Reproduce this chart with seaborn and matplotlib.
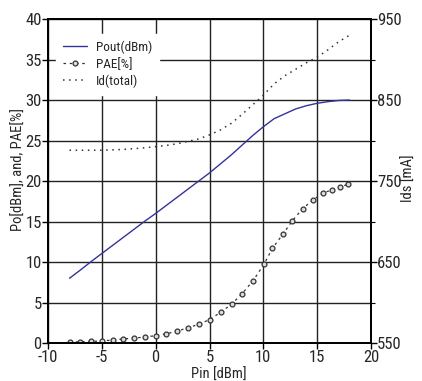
import matplotlib
matplotlib.use("Agg")
import matplotlib.pyplot as plt
import seaborn as sns
import pandas as pd
from matplotlib.ticker import MultipleLocator

# ---- data ----
pin_pout = list(range(-8, 19))
pout = [8.0, 9.0, 10.05, 11.05, 12.05, 13.05, 14.05, 15.05, 16.0, 17.0, 18.0,
        19.0, 20.0, 21.0, 22.1, 23.2, 24.4, 25.6, 26.7, 27.7, 28.3, 28.9,
        29.3, 29.6, 29.8, 29.95, 30.0]

pin_pae = [-8, -7, -6, -5, -4, -3, -2, -1, 0, 1, 2, 3, 4, 5.0, 6.05, 7.05,
           8.0, 9.05, 10.05, 10.85, 11.85, 12.7, 13.65, 14.65, 15.5, 16.35,
           17.15, 17.9]
pae = [0.1, 0.15, 0.2, 0.25, 0.37, 0.5, 0.6, 0.75, 0.9, 1.15, 1.45, 1.9, 2.3,
       2.9, 3.8, 4.8, 6.05, 7.7, 9.7, 11.7, 13.5, 15.1, 16.6, 17.7, 18.5,
       18.9, 19.3, 19.6]

pin_id = list(range(-8, 19))
ids = [788, 788, 788, 788, 788.5, 789, 790, 791, 792.5, 794, 796, 799, 802,
       807, 813, 821, 832, 844, 856, 870, 880, 888, 896, 903, 912, 922, 930]

xticks = [-10, -5, 0, 5, 10, 15, 20]
yticks_left = [0, 5, 10, 15, 20, 25, 30, 35, 40]
yticks_right = [550, 650, 750, 850, 950]

sns.set_style("white")
plt.rcParams['font.family'] = ['Roboto Condensed', 'Liberation Sans Narrow',
                               'Liberation Sans', 'DejaVu Sans']
plt.rcParams['axes.unicode_minus'] = False

fig = plt.figure(figsize=(4.22, 3.81), dpi=100)
ax = fig.add_axes([0.1137, 0.0997, 0.7655, 0.8503])
ax2 = ax.twinx()

df_pout = pd.DataFrame({"Pin": pin_pout, "v": pout})
df_pae = pd.DataFrame({"Pin": pin_pae, "v": pae})
df_id = pd.DataFrame({"Pin": pin_id, "v": ids})

sns.lineplot(data=df_pout, x="Pin", y="v", ax=ax, color="#33339a", lw=1.0,
             label="Pout(dBm)", legend=False)
sns.lineplot(data=df_pae, x="Pin", y="v", ax=ax, color="#333333", lw=0.9,
             linestyle=(0, (2, 3)), marker="o", markersize=3.5,
             markerfacecolor="#dddddd", markeredgecolor="#333333",
             markeredgewidth=0.9, label="PAE[%]", legend=False)
sns.lineplot(data=df_id, x="Pin", y="v", ax=ax2, color="#333333", lw=1.1,
             linestyle=(0, (1, 3)), label="Id(total)", legend=False)

ax.set_xlim(-10, 20)
ax.set_ylim(0, 40)
ax2.set_ylim(550, 950)
ax.set_xticks(xticks)
ax.set_yticks(yticks_left)
ax2.set_yticks(yticks_right)
ax2.yaxis.set_minor_locator(MultipleLocator(50))

ax.grid(True, color="#222222", lw=1.0)
ax.set_axisbelow(True)

for a in (ax, ax2):
    for s in a.spines.values():
        s.set_color("black")
        s.set_linewidth(1.3)

ax.tick_params(axis="both", which="major", direction="out", length=4,
               width=1, color="black", labelsize=12, pad=1,
               bottom=True, left=True)
ax.tick_params(axis="y", pad=0.5)
ax2.tick_params(axis="y", which="major", direction="out", length=4,
                width=1, color="black", labelsize=12, pad=0.5, right=True)
ax2.tick_params(axis="y", which="minor", direction="out", length=3,
                width=0.8, color="black", right=True)

ax.set_xlabel("Pin [dBm]", fontsize=10.5)
ax.set_ylabel("Po[dBm], and, PAE[%]", fontsize=10.5)
ax2.set_ylabel("Ids [mA]", fontsize=10.5)
ax.xaxis.set_label_coords(0.53, -0.075)
ax.yaxis.set_label_coords(-0.069, 0.535)
ax2.yaxis.set_label_coords(1.094, 0.51)

h1, l1 = ax.get_legend_handles_labels()
h2, l2 = ax2.get_legend_handles_labels()
leg = ax2.legend(h1 + h2, l1 + l2, loc="upper left",
                 bbox_to_anchor=(0.005, 0.975), frameon=True,
                 fontsize=9.5, handlelength=1.8, handletextpad=0.7,
                 labelspacing=0.3, borderpad=0.5)
leg.get_frame().set_edgecolor("white")
leg.get_frame().set_facecolor("white")
leg.get_frame().set_alpha(1.0)
leg.get_frame().set_boxstyle("square", pad=0)

fig.savefig("out.png", dpi=100)
